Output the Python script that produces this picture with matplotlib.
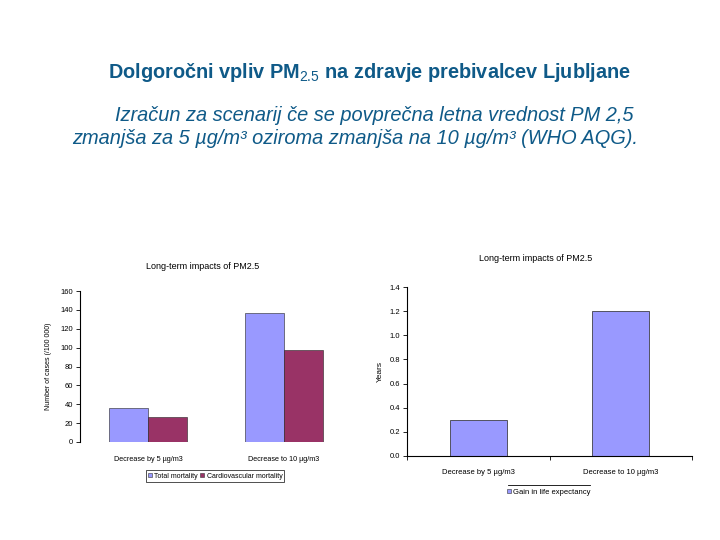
import matplotlib
matplotlib.use("Agg")
import matplotlib.pyplot as plt
from matplotlib.lines import Line2D
from matplotlib.patches import Patch
import numpy as np

plt.rcParams['font.family'] = ['Liberation Sans', 'DejaVu Sans']
plt.rcParams['mathtext.fontset'] = 'custom'
plt.rcParams['mathtext.rm'] = 'Liberation Sans'
plt.rcParams['mathtext.bf'] = 'Liberation Sans:bold'

# ---- data ----
categories = ["Decrease by 5 µg/m3", "Decrease to 10 µg/m3"]
total_mortality = [36, 137]
cardio_mortality = [27, 97]
life_gain = [0.3, 1.2]
left_yticks = [0, 20, 40, 60, 80, 100, 120, 140, 160]
right_yticks = [0.0, 0.2, 0.4, 0.6, 0.8, 1.0, 1.2, 1.4]

title_color = '#0F5A88'
c_total = '#9999FF'
c_cardio = '#993366'

fig = plt.figure(figsize=(7.2, 5.4), dpi=100)

fig.text(0.5125, 0.866, r"Dolgoročni vpliv PM$_{\mathrm{2.5}}$ na zdravje prebivalcev Ljubljane",
         ha='center', va='center', fontsize=14.3, fontweight='bold', color=title_color)
fig.text(0.520, 0.786, "Izračun za scenarij če se povprečna letna vrednost PM 2,5",
         ha='center', va='center', fontsize=14.4, style='italic', color=title_color)
fig.text(0.493, 0.743, "zmanjša za 5 µg/m³ oziroma zmanjša na 10 µg/m³ (WHO AQG).",
         ha='center', va='center', fontsize=14.4, style='italic', color=title_color)

# ---- left chart ----
axL = fig.add_axes([80/720, 1-442/540, 272/720, 151/540])
x = np.arange(len(categories))
w = 0.287
axL.bar(x - w/2, total_mortality, w, color=c_total, edgecolor='#222222', linewidth=0.4)
axL.bar(x + w/2, cardio_mortality, w, color=c_cardio, edgecolor='#222222', linewidth=0.4)
axL.set_xlim(-0.5, 1.5)
axL.set_ylim(0, 160)
axL.set_yticks(left_yticks)
axL.set_yticklabels([str(v) for v in left_yticks], fontsize=5.5)
axL.set_xticks(x)
axL.set_xticklabels(categories, fontsize=5.2)
axL.tick_params(axis='x', length=0, pad=10)
axL.tick_params(axis='y', direction='out', length=3, width=0.6, pad=2)
for s in ['top', 'right', 'bottom']:
    axL.spines[s].set_visible(False)
axL.spines['left'].set_linewidth(0.8)
axL.set_ylabel("Number of cases (/100 000)", fontsize=5, labelpad=6)
axL.set_title("Long-term impacts of PM2.5", fontsize=6.5, pad=16, x=0.452)
axL.set_facecolor('white')
legL = fig.legend(handles=[Patch(facecolor=c_total, edgecolor='#333333', linewidth=0.4, label='Total mortality'),
                           Patch(facecolor=c_cardio, edgecolor='#333333', linewidth=0.4, label='Cardiovascular mortality')],
                  loc='center', bbox_to_anchor=(215/720, 1-476/540), ncol=2, fontsize=5.0,
                  frameon=True, fancybox=False, edgecolor='black', handlelength=0.6, handleheight=0.6,
                  handletextpad=0.3, columnspacing=0.4, borderpad=0.3)
legL.get_frame().set_linewidth(0.6)

# ---- right chart ----
axR = fig.add_axes([407/720, 1-456/540, 285/720, 169/540])
axR.bar(x, life_gain, 0.4, color=c_total, edgecolor='#222222', linewidth=0.5)
axR.set_xlim(-0.5, 1.5)
axR.set_ylim(0, 1.4)
axR.set_yticks(right_yticks)
axR.set_yticklabels([f"{v:.1f}" for v in right_yticks], fontsize=5.5)
axR.set_xticks(x)
axR.set_xticklabels(categories, fontsize=5.5)
axR.set_xticks([-0.5, 0.5, 1.5], minor=True)
axR.tick_params(axis='x', which='major', length=0, pad=9)
axR.tick_params(axis='x', which='minor', direction='out', length=3, width=0.6)
axR.tick_params(axis='y', direction='out', length=3, width=0.6, pad=2)
for s in ['top', 'right']:
    axR.spines[s].set_visible(False)
axR.spines['left'].set_linewidth(0.8)
axR.spines['bottom'].set_linewidth(0.8)
axR.set_ylabel("Years", fontsize=6, labelpad=4)
axR.set_title("Long-term impacts of PM2.5", fontsize=6.5, pad=19, x=0.453)
legR = fig.legend(handles=[Patch(facecolor=c_total, edgecolor='#333333', linewidth=0.4, label='Gain in life expectancy')],
                  loc='center', bbox_to_anchor=(549/720, 1-492/540), fontsize=5.5, frameon=False,
                  handlelength=0.5, handleheight=0.5, handletextpad=0.3, borderpad=0.2)
fig.add_artist(Line2D([508/720, 590/720], [1-485/540, 1-485/540], color='black', linewidth=0.6,
                      transform=fig.transFigure))

fig.savefig("out.png", dpi=100, facecolor='white')
